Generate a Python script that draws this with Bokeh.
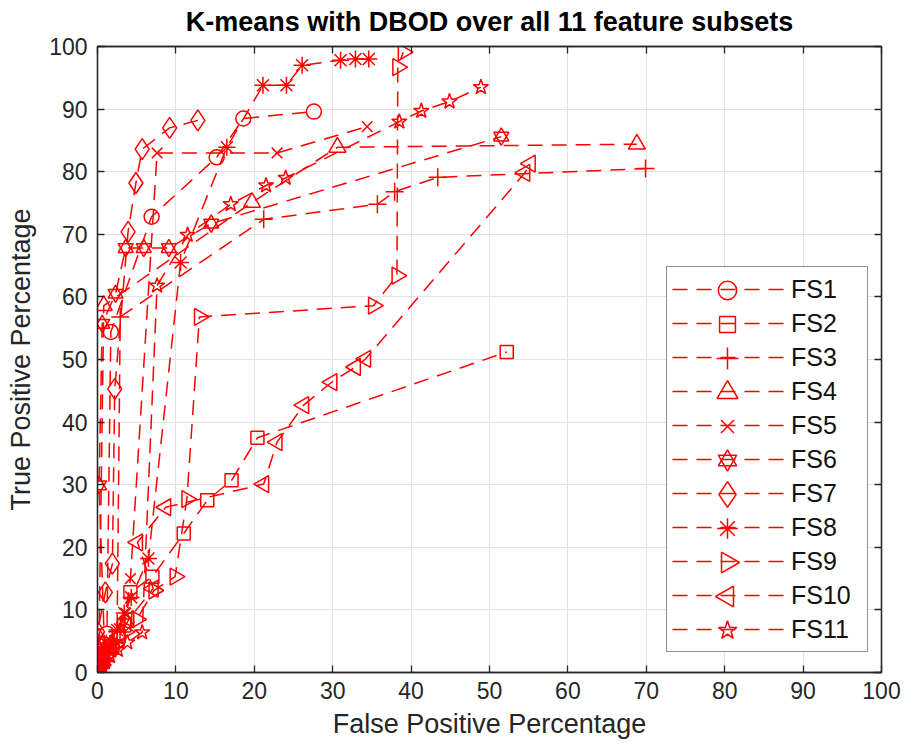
import math
from bokeh.plotting import figure
from bokeh.models import Range1d, LinearAxis, Legend, LegendItem, FixedTicker
from bokeh.embed import file_html
from bokeh.resources import INLINE

# ---------------- data ----------------
TITLE = "K-means with DBOD over all 11 feature subsets"
X_LABEL = "False Positive Percentage"
Y_LABEL = "True Positive Percentage"
X_TICKS = [0, 10, 20, 30, 40, 50, 60, 70, 80, 90, 100]
Y_TICKS = [0, 10, 20, 30, 40, 50, 60, 70, 80, 90, 100]
NAMES = ["FS1", "FS2", "FS3", "FS4", "FS5", "FS6", "FS7", "FS8", "FS9", "FS10", "FS11"]

fs1_x = [0, 0.1, 0.3, 0.5, 0.8, 1.2, 1.7, 6.9, 15.2, 18.6, 27.6]
fs1_y = [0, 0.8, 1.8, 3.0, 4.5, 6.2, 54.4, 72.8, 82.3, 88.5, 89.6]

fs2_x = [0, 0.3, 0.7, 1.2, 1.9, 2.7, 3.4, 4.2, 7.0, 11.0, 14.0, 17.1, 20.4, 52.2]
fs2_y = [0, 0.8, 1.7, 2.8, 4.2, 5.8, 7.5, 12.8, 15.3, 22.2, 27.5, 30.7, 37.5, 51.2]

fs3_x = [0, 0.4, 0.9, 1.5, 2.1, 2.5, 2.9, 21.2, 35.7, 37.9, 43.4, 69.9]
fs3_y = [0, 1.0, 2.2, 3.4, 4.8, 6.5, 56.8, 72.4, 74.8, 76.8, 79.1, 80.5]

fs4_x = [0, 0.1, 0.3, 0.5, 0.2, 0.8, 19.7, 30.6, 68.8]
fs4_y = [0, 1.2, 2.6, 4.0, 5.5, 58.6, 75.1, 83.9, 84.4]

fs5_x = [0, 0.5, 1.1, 1.9, 2.8, 3.6, 4.2, 7.6, 22.9, 34.4]
fs5_y = [0, 1.4, 3.0, 4.8, 7.0, 9.5, 15.0, 83.0, 83.0, 87.2]

fs6_x = [0, 0.2, 0.5, 0.9, 0.2, 0.6, 2.3, 3.6, 5.9, 9.1, 14.5, 51.5]
fs6_y = [0, 1.0, 2.2, 3.8, 29.9, 55.7, 60.5, 67.8, 67.8, 67.8, 71.7, 85.6]

fs7_x = [0, 0.2, 0.0, 1.0, 1.9, 2.2, 3.9, 4.9, 5.7, 9.2, 12.8]
fs7_y = [0, 2.0, 6.5, 12.8, 17.4, 45.3, 70.4, 78.2, 83.6, 87.0, 88.2]

fs8_x = [0, 0.4, 0.9, 1.6, 2.5, 3.4, 4.3, 6.5, 10.6, 16.5, 21.1, 24.1, 26.1, 31.0, 32.9, 34.6]
fs8_y = [0, 1.2, 2.8, 4.6, 6.8, 9.5, 12.0, 18.2, 65.5, 83.9, 93.8, 93.8, 97.0, 97.8, 98.0, 98.0]

fs9_x = [0, 0.5, 1.2, 2.2, 3.5, 5.0, 7.2, 9.9, 11.4, 13.0, 35.2, 38.2, 38.3, 39.0]
fs9_y = [0, 1.2, 2.8, 4.5, 6.5, 8.5, 13.1, 15.3, 27.7, 56.8, 58.6, 63.4, 96.7, 99.1]

fs10_x = [0, 0.4, 0.9, 1.7, 2.8, 4.0, 7.1, 5.1, 8.7, 21.2, 22.9, 26.3, 29.9, 32.9, 34.2, 54.5, 55.2]
fs10_y = [0, 1.0, 2.3, 3.8, 5.8, 8.5, 13.4, 20.8, 26.4, 30.1, 36.8, 42.7, 46.4, 48.8, 50.1, 79.8, 81.3]

fs11_x = [0, 0.3, 0.8, 1.6, 2.6, 3.8, 5.7, 7.6, 11.5, 17.0, 21.5, 24.0, 38.5, 41.3, 44.9, 48.9]
fs11_y = [0, 0.7, 1.6, 2.6, 3.6, 4.8, 6.4, 61.8, 69.9, 74.8, 77.8, 79.0, 88.0, 89.7, 91.2, 93.5]

SERIES_X = [fs1_x, fs2_x, fs3_x, fs4_x, fs5_x, fs6_x, fs7_x, fs8_x, fs9_x, fs10_x, fs11_x]
SERIES_Y = [fs1_y, fs2_y, fs3_y, fs4_y, fs5_y, fs6_y, fs7_y, fs8_y, fs9_y, fs10_y, fs11_y]

# ---------------- styles / layout ----------------
RED = "#ff0000"
AX = "#262626"
FONT = "Liberation Sans"
DASH = "15 9"
LW = 1.5
W, H = 913, 744
BL, BR, BT, BB = 97, 32, 46, 72
FRAME_W, FRAME_H = W - BL - BR, H - BT - BB
X0, X1, Y0, Y1 = 0, 100, 0, 100

# (list of (marker, angle), size) per series
MARKERS = [
    ([("circle", 0.0)], 15),
    ([("square", 0.0)], 13),
    ([("cross", 0.0)], 18),
    ([("triangle", 0.0)], 17),
    ([("x", 0.0)], 15),
    ([("triangle", 0.0), ("inverted_triangle", 0.0)], 15),
    ([("diamond", 0.0)], 21),
    ([("asterisk", 0.0)], 17),
    ([("triangle", -math.pi / 2)], 17),
    ([("triangle", math.pi / 2)], 17),
    ([("star", 0.0)], 16),
]
KEY_SCALE = 1.22   # legend keys are drawn a little larger than the plot markers

# legend layout (screen px)
LEG_X, LEG_Y = 569, 20          # from frame bottom-left
LEG_PAD = 5
LEG_GW = 112
LEG_ROW = 34
LEG_LABEL_W = 71
LEG_STANDOFF = 7

p = figure(width=W, height=H, x_range=Range1d(X0, X1), y_range=Range1d(Y0, Y1),
           output_backend="svg", toolbar_location=None, title=None,
           min_border_left=BL, min_border_right=BR, min_border_top=BT, min_border_bottom=BB,
           background_fill_color="white", border_fill_color="white")

p.xaxis.ticker = FixedTicker(ticks=X_TICKS)
p.yaxis.ticker = FixedTicker(ticks=Y_TICKS)
p.xaxis.axis_label = X_LABEL
p.yaxis.axis_label = Y_LABEL
for ax in [p.xaxis[0], p.yaxis[0]]:
    ax.axis_line_color = AX
    ax.axis_line_width = 1.3
    ax.major_tick_line_color = AX
    ax.major_tick_line_width = 1.3
    ax.major_tick_in = 7
    ax.major_tick_out = 0
    ax.minor_tick_line_color = None
    ax.major_label_text_font = FONT
    ax.major_label_text_font_size = "23px"
    ax.major_label_text_color = AX
    ax.axis_label_text_font = FONT
    ax.axis_label_text_font_size = "27px"
    ax.axis_label_text_font_style = "normal"
    ax.axis_label_text_color = AX
p.xaxis.major_label_standoff = 9
p.xaxis.axis_label_standoff = 7
p.yaxis.major_label_standoff = 10
p.yaxis.axis_label_standoff = 10

for loc, tk in [("above", X_TICKS), ("right", Y_TICKS)]:
    a = LinearAxis(ticker=FixedTicker(ticks=tk))
    a.axis_line_color = AX
    a.axis_line_width = 1.3
    a.major_tick_line_color = AX
    a.major_tick_line_width = 1.3
    a.major_tick_in = 7
    a.major_tick_out = 0
    a.minor_tick_line_color = None
    a.major_label_text_font_size = "1px"
    a.major_label_text_color = None
    a.major_label_standoff = 0
    if loc == "above":
        # chart title carried by the top axis label, centred over the frame
        a.axis_label = TITLE
        a.axis_label_text_font = FONT
        a.axis_label_text_font_size = "27px"
        a.axis_label_text_font_style = "bold"
        a.axis_label_text_color = "black"
        a.axis_label_standoff = 10
    p.add_layout(a, loc)

p.grid.grid_line_color = "#e2e2e2"
p.grid.grid_line_width = 1
p.outline_line_color = AX
p.outline_line_width = 1.3

n_rows = len(NAMES)
leg_h = 2 * LEG_PAD + n_rows * LEG_ROW
leg_w = 2 * LEG_PAD + LEG_GW + LEG_STANDOFF + LEG_LABEL_W
leg_left = BL + LEG_X
leg_bottom = (H - BB) - LEG_Y
leg_top = leg_bottom - leg_h
key_sx = leg_left + LEG_PAD + LEG_GW / 2.0


def sx_to_data(sx):
    return X0 + (sx - BL) / FRAME_W * (X1 - X0)


def sy_to_data(sy):
    return Y0 + ((H - BB) - sy) / FRAME_H * (Y1 - Y0)


# white panel behind the (transparent) legend, hides the grid there
p.quad(left=[sx_to_data(leg_left)], right=[sx_to_data(leg_left + leg_w)],
       bottom=[sy_to_data(leg_bottom)], top=[sy_to_data(leg_top)],
       fill_color="white", line_color=None)

items = []
for i, (name, xs, ys, (mk, sz)) in enumerate(zip(NAMES, SERIES_X, SERIES_Y, MARKERS)):
    line_r = p.line(xs, ys, line_color=RED, line_dash=DASH, line_width=LW)
    for m, ang in mk:
        p.scatter(xs, ys, marker=m, size=sz, angle=ang, line_color=RED,
                  fill_color=None, line_width=LW)
    items.append(LegendItem(label=name, renderers=[line_r]))

# legend keys (drawn as glyphs so that rotated markers keep their angle)
for i, (mk, sz) in enumerate(MARKERS):
    ky = leg_top + LEG_PAD + LEG_ROW * i + LEG_ROW / 2.0
    for m, ang in mk:
        p.scatter([sx_to_data(key_sx)], [sy_to_data(ky)], marker=m, size=sz * KEY_SCALE,
                  angle=ang, line_color=RED, fill_color=None, line_width=LW)

legend = Legend(items=items, location=(LEG_X, LEG_Y))
legend.padding = LEG_PAD
legend.margin = 0
legend.spacing = 0
legend.glyph_width = LEG_GW
legend.glyph_height = LEG_ROW
legend.label_height = LEG_ROW
legend.label_width = LEG_LABEL_W
legend.label_standoff = LEG_STANDOFF
legend.label_text_font = FONT
legend.label_text_font_size = "25px"
legend.label_text_color = "#111111"
legend.border_line_color = AX
legend.border_line_width = 1.3
legend.background_fill_alpha = 0.0
p.add_layout(legend)

open("out.html", "w").write(file_html(p, INLINE))
